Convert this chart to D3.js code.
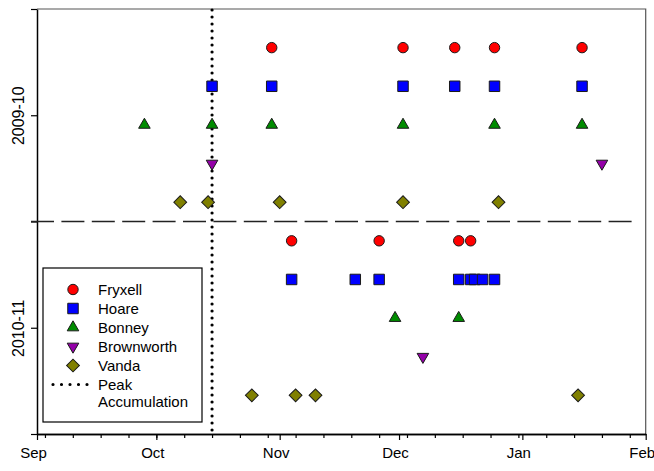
<!DOCTYPE html>
<html>
<head>
<meta charset="utf-8">
<script src="https://cdn.jsdelivr.net/npm/d3@7"></script>
<style>
  body { margin: 0; background: #fff; }
  svg { font-family: "Liberation Sans", Arial, sans-serif; }
</style>
</head>
<body>
<script>
// sampling dates, "MM-DD" (Sep..Dec -> first year, Jan -> second year)
var seasons = ["2009-10", "2010-11"];
var lakes = ["Fryxell", "Hoare", "Bonney", "Brownworth", "Vanda"];
var lakeColors = ["#ff0000", "#0000ff", "#008c00", "#9400a8", "#808000"];

var fryxell0910 = ["10-30", "12-02", "12-15", "12-25", "01-16"];
var hoare0910 = ["10-15", "10-30", "12-02", "12-15", "12-25", "01-16"];
var bonney0910 = ["09-28", "10-15", "10-30", "12-02", "12-25", "01-16"];
var brownworth0910 = ["10-15", "01-21"];
var vanda0910 = ["10-07", "10-14", "11-01", "12-02", "12-26"];

var fryxell1011 = ["11-04", "11-26", "12-16", "12-19"];
var hoare1011 = ["11-04", "11-20", "11-26", "12-16", "12-19", "12-20", "12-22", "12-25"];
var bonney1011 = ["11-30", "12-16"];
var brownworth1011 = ["12-07"];
var vanda1011 = ["10-25", "11-05", "11-10", "01-15"];

var peakAccumulation = "10-15";

var samples = {
  "2009-10": [fryxell0910, hoare0910, bonney0910, brownworth0910, vanda0910],
  "2010-11": [fryxell1011, hoare1011, bonney1011, brownworth1011, vanda1011]
};

function parseDay(s) {
  var m = +s.slice(0, 2), d = +s.slice(3, 5);
  return new Date(m >= 8 ? 2009 : 2010, m - 1, d);
}

var margin = { top: 9, right: 8.3, bottom: 37, left: 37 };
var width = 654 - margin.left - margin.right;
var height = 471 - margin.top - margin.bottom;

var xScale = d3.scaleTime()
  .domain([new Date(2009, 8, 1), new Date(2010, 1, 1)])
  .range([0, width]);

// one unit per lake row; each season block is 5.5 units tall
var seasonSpan = lakes.length + 0.5;
var yScale = d3.scaleLinear().domain([0, 2 * seasonSpan]).range([height, 0]);

function rowValue(seasonIdx, lakeIdx) {
  var base = seasonIdx === 0 ? lakes.length : 0;
  return base + (lakes.length - lakeIdx);
}

var svg = d3.select("body").append("svg")
  .attr("width", 654)
  .attr("height", 471)
  .append("g")
  .attr("transform", "translate(" + margin.left + "," + margin.top + ")");

// frame (top + right)
svg.append("path")
  .attr("d", "M0,0H" + width + "V" + height)
  .attr("fill", "none")
  .attr("stroke", "#555")
  .attr("stroke-width", 1.2);

// x axis: weekly minor ticks, monthly major
var minorAxis = d3.axisBottom(xScale)
  .ticks(d3.timeThursday.every(1))
  .tickSize(4)
  .tickSizeOuter(0)
  .tickFormat("");

svg.append("g")
  .attr("class", "x minor")
  .attr("transform", "translate(0," + height + ")")
  .call(minorAxis);

var xAxis = d3.axisBottom(xScale)
  .ticks(d3.timeMonth.every(1))
  .tickSize(6)
  .tickSizeOuter(0)
  .tickPadding(7)
  .tickFormat(d3.timeFormat("%b"));

var gx = svg.append("g")
  .attr("class", "x axis")
  .attr("transform", "translate(0," + height + ")")
  .call(xAxis);

gx.selectAll("text")
  .attr("dx", -4)
  .attr("font-size", 15)
  .attr("fill", "#000");

// y axis: season labels between ticks
var seasonTicks = [0, seasonSpan / 2, seasonSpan, seasonSpan * 1.5, seasonSpan * 2];
var yAxis = d3.axisLeft(yScale)
  .tickValues(seasonTicks)
  .tickSize(6)
  .tickSizeOuter(0)
  .tickFormat((d) => {
    if (d === seasonSpan * 1.5) return seasons[0];
    if (d === seasonSpan / 2) return seasons[1];
    return "";
  });

var gy = svg.append("g")
  .attr("class", "y axis")
  .call(yAxis);

gy.selectAll("text")
  .attr("x", 0)
  .attr("dy", "0.35em")
  .attr("text-anchor", "middle")
  .attr("transform", "translate(-19,0) rotate(-90)")
  .attr("font-size", 16)
  .attr("fill", "#000");

svg.selectAll(".axis .domain, .minor .domain").attr("stroke", "#000").attr("stroke-width", 1.5);
svg.selectAll(".axis line, .minor line").attr("stroke", "#000").attr("stroke-width", 1.2);

// dashed separator between seasons
svg.append("line")
  .attr("x1", -6)
  .attr("x2", width - 8)
  .attr("y1", yScale(seasonSpan))
  .attr("y2", yScale(seasonSpan))
  .attr("stroke", "#222")
  .attr("stroke-width", 1.6)
  .attr("stroke-dasharray", "23,7.4");

// peak accumulation
svg.append("line")
  .attr("x1", xScale(parseDay(peakAccumulation)))
  .attr("x2", xScale(parseDay(peakAccumulation)))
  .attr("y1", 1)
  .attr("y2", height)
  .attr("stroke", "#000")
  .attr("stroke-width", 3.2)
  .attr("stroke-linecap", "round")
  .attr("stroke-dasharray", "0,7");

// marker shapes per lake
function markerPath(lakeIdx) {
  var sym = [
    d3.symbol(d3.symbolCircle, 85),
    d3.symbol(d3.symbolSquare, 110),
    d3.symbol(d3.symbolTriangle, 58),
    d3.symbol(d3.symbolTriangle, 58),
    d3.symbol(d3.symbolSquare, 82)
  ][lakeIdx];
  return sym();
}
function markerRotate(lakeIdx) {
  if (lakeIdx === 3) return " rotate(180)";
  if (lakeIdx === 4) return " rotate(45)";
  return "";
}

seasons.forEach((season, si) => {
  samples[season].forEach((dates, li) => {
    svg.append("g").selectAll("path")
      .data(dates)
      .enter().append("path")
      .attr("d", markerPath(li))
      .attr("transform", (d) => "translate(" + xScale(parseDay(d)) + "," + yScale(rowValue(si, li)) + ")" + markerRotate(li))
      .attr("fill", lakeColors[li])
      .attr("stroke", "#1a1a1a")
      .attr("stroke-width", 1);
  });
});

// legend
var legend = svg.append("g")
  .attr("transform", "translate(" + (43 - margin.left) + "," + (268 - margin.top) + ")");

legend.append("rect")
  .attr("width", 159)
  .attr("height", 154)
  .attr("fill", "#fff")
  .attr("stroke", "#000")
  .attr("stroke-width", 1.2);

lakes.forEach((name, i) => {
  var y = 21.5 + i * 19;
  legend.append("path")
    .attr("d", markerPath(i))
    .attr("transform", "translate(30," + y + ")" + markerRotate(i))
    .attr("fill", lakeColors[i])
    .attr("stroke", "#1a1a1a")
    .attr("stroke-width", 1);
  legend.append("text")
    .attr("x", 55)
    .attr("y", y)
    .attr("dy", "0.35em")
    .attr("font-size", 15)
    .text(name);
});

var peakY = 21.5 + lakes.length * 19;
legend.append("line")
  .attr("x1", 10)
  .attr("x2", 45)
  .attr("y1", peakY)
  .attr("y2", peakY)
  .attr("stroke", "#000")
  .attr("stroke-width", 3.2)
  .attr("stroke-linecap", "round")
  .attr("stroke-dasharray", "0,8.5");

legend.append("text")
  .attr("x", 55)
  .attr("y", peakY)
  .attr("dy", "0.35em")
  .attr("font-size", 15)
  .text("Peak");
legend.append("text")
  .attr("x", 55)
  .attr("y", peakY + 17.5)
  .attr("dy", "0.35em")
  .attr("font-size", 15)
  .text("Accumulation");
</script>
</body>
</html>
